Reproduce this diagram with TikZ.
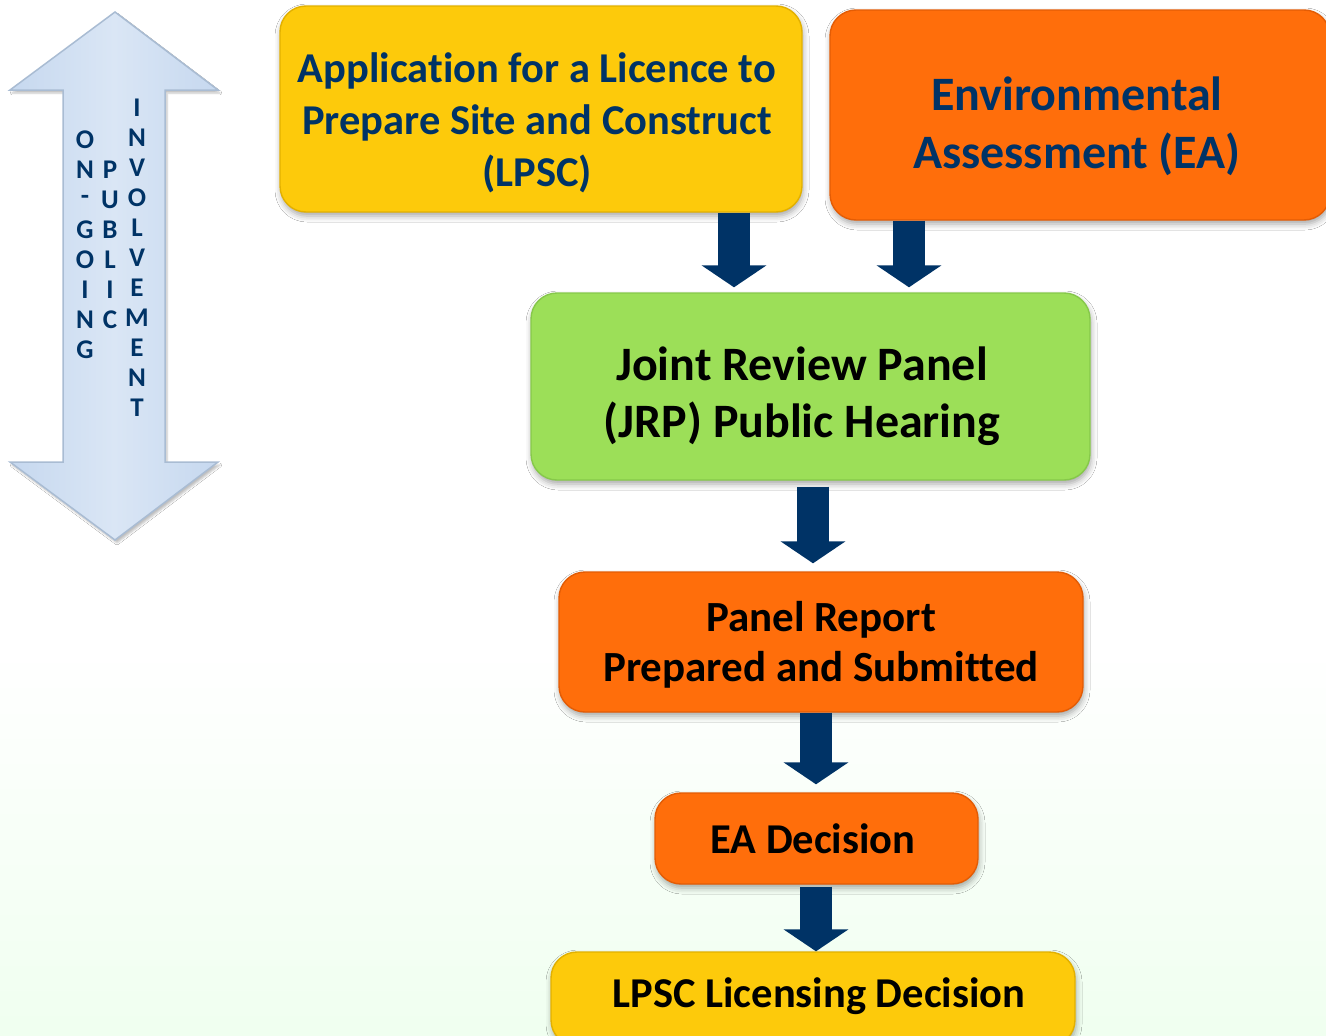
\documentclass[tikz,border=0pt]{standalone}
\usepackage{fontspec}
\setmainfont{Carlito}[Ligatures=NoCommon]
\usetikzlibrary{arrows.meta,shadows.blur}
\definecolor{navy}{HTML}{003366}
\definecolor{ylw}{HTML}{FDCA0B}
\definecolor{ylwd}{HTML}{E2B000}
\definecolor{org}{HTML}{FF6E0B}
\definecolor{orgd}{HTML}{E35C05}
\definecolor{grn}{HTML}{9CDF58}
\definecolor{grnd}{HTML}{86C84A}
\definecolor{lblue}{HTML}{C6D8EF}
\definecolor{lblued}{HTML}{A9BCD3}
\definecolor{lbluem}{HTML}{DAE6F5}
\begin{document}
\begin{tikzpicture}[x=1pt,y=-1pt,
  flow/.style={rounded corners=26pt, line width=1.4pt, inner sep=0pt,
    blur shadow={shadow xshift=1pt, shadow yshift=-4pt, shadow blur radius=6pt, shadow opacity=35}},
  ybox/.style={flow, fill=ylw, draw=ylwd},
  obox/.style={flow, fill=org, draw=orgd},
  gbox/.style={flow, fill=grn, draw=grnd},
  txt/.style={align=center, inner sep=0pt},
  blockarrow/.style={draw=navy, line width=32pt, -{Triangle[width=64pt,length=22pt]}},
  vlet/.style={text=navy, font=\fontsize{27}{27}\selectfont\bfseries, inner sep=0pt}
]
\useasboundingbox (0,0) rectangle (1326,1036);
\fill[white] (0,0) rectangle (1326,1036);
\shade[top color=white, bottom color=green!6!white] (0,650) rectangle (1326,1036);

% double arrow
\path[draw=lblued, line width=1.5pt, left color=lblue, right color=lblue, middle color=lbluem,
  blur shadow={shadow xshift=2pt, shadow yshift=-3pt, shadow opacity=25}]
  (115,12) -- (218,90) -- (165,90) -- (165,462) -- (218,462) -- (115,540)
  -- (10,462) -- (63,462) -- (63,90) -- (10,90) -- cycle;
\foreach \c [count=\i] in {O,N,-,G,O,I,N,G}
  \node[vlet] (og\i) at (85,{110+30*\i}) {\c};
\foreach \c [count=\i] in {P,U,B,L,I,C}
  \node[vlet] (pu\i) at (110,{140+30*\i}) {\c};
\foreach \c [count=\i] in {I,N,V,O,L,V,E,M,E,N,T}
  \node[vlet] (in\i) at (137,{78+30*\i}) {\c};

% boxes
\node[ybox, minimum width=522pt, minimum height=206pt] (app) at (541,109) {};
\node[obox, minimum width=500pt, minimum height=210pt] (ea) at (1080,115) {};
\node[gbox, minimum width=559pt, minimum height=187pt] (jrp) at (810.5,386.5) {};
\node[obox, minimum width=524pt, minimum height=140pt] (panel) at (821,642) {};
\node[obox, minimum width=323pt, minimum height=91pt] (ead) at (816.5,838.5) {};
\node[ybox, minimum width=524pt, minimum height=94pt] (lpsc) at (813,999) {};

% texts
\node[txt, text=navy, font=\fontsize{42.5}{52}\selectfont\bfseries] (appt) at (537,123)
  {Application for a Licence to\\Prepare Site and Construct\\(LPSC)};
\node[txt, text=navy, font=\fontsize{48}{58}\selectfont\bfseries] (eat) at (1077,126)
  {Environmental\\Assessment (EA)};
\node[txt, text=black, font=\fontsize{48}{57}\selectfont\bfseries] (jrpt) at (802,396)
  {Joint Review Panel\\(JRP) Public Hearing};
\node[txt, text=black, font=\fontsize{43}{50}\selectfont\bfseries] (panelt) at (821,645)
  {Panel Report\\Prepared and Submitted};
\node[txt, text=black, font=\fontsize{42.5}{50}\selectfont\bfseries] (eadt) at (813,839)
  {EA Decision};
\node[txt, text=black, font=\fontsize{42.5}{50}\selectfont\bfseries] (lpsct) at (819,996)
  {LPSC Licensing Decision};

% arrows
\coordinate (x1) at (734,0);
\coordinate (x2) at (909,0);
\coordinate (x3) at (813,0);
\coordinate (x4) at (816,0);
\draw[blockarrow, shorten >=5pt] (app.south -| x1) -- (jrp.north -| x1);
\draw[blockarrow, shorten >=5pt] (ea.south -| x2) -- (jrp.north -| x2);
\draw[blockarrow, shorten <=6pt, shorten >=8pt] (jrp.south -| x3) -- (panel.north -| x3);
\draw[blockarrow, shorten >=8pt] (panel.south -| x4) -- (ead.north -| x4);
\draw[blockarrow, shorten <=2pt] (ead.south -| x4) -- (lpsc.north -| x4);
\end{tikzpicture}
\end{document}
